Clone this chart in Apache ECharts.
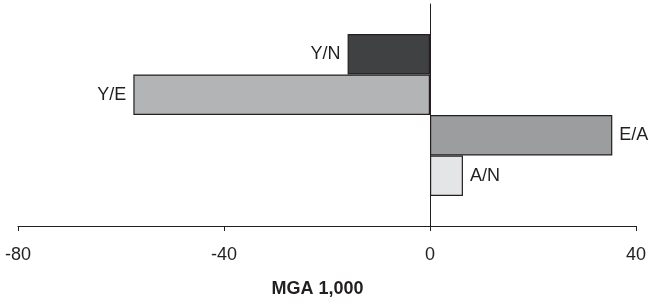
<!DOCTYPE html>
<html>
<head>
<meta charset="utf-8">
<script src="https://cdn.jsdelivr.net/npm/echarts@6/dist/echarts.min.js"></script>
<style>
  html, body { margin: 0; padding: 0; background: #fff; }
  #chart { width: 649px; height: 304px; }
</style>
</head>
<body>
<div id="chart"></div>
<script>
// data (MGA 1,000)
const categories = [''];
const seriesNames = ['Y/N', 'Y/E', 'E/A', 'A/N'];
const seriesValues = [-16, -57.6, 35.4, 6.4];
const xTicks = [-80, -40, 0, 40];
const barColors = ['#404143', '#b3b4b6', '#9c9d9f', '#e4e5e6'];

const chart = echarts.init(document.getElementById('chart'));
const font = '"Liberation Sans", Arial, sans-serif';
const ink = '#231f20';

const series = seriesNames.map((name, i) => ({
    name: name,
    type: 'bar',
    data: [seriesValues[i]],
    barGap: '0%',
    barCategoryGap: '27%',
    itemStyle: {
        color: barColors[i],
        borderColor: ink,
        borderWidth: 1.2
    },
    label: {
        show: true,
        position: seriesValues[i] < 0 ? 'left' : 'right',
        distance: 7,
        formatter: '{a}',
        color: ink,
        fontFamily: font,
        fontSize: 18
    },
    silent: true
}));

chart.setOption({
    animation: false,
    grid: {left: 18, right: 13, top: 4, bottom: 78},
    xAxis: {
        type: 'value',
        min: xTicks[0],
        max: xTicks[xTicks.length - 1],
        interval: 40,
        splitLine: {show: false},
        axisLine: {show: true, lineStyle: {color: ink, width: 1.2}},
        axisTick: {show: true, length: 5, lineStyle: {color: ink}},
        axisLabel: {color: ink, fontFamily: font, fontSize: 18, margin: 20},
        name: 'MGA 1,000',
        nameLocation: 'middle',
        nameGap: 54,
        nameTextStyle: {
            color: ink, fontFamily: font, fontSize: 18, fontWeight: 'bold',
            padding: [0, 19, 0, 0]
        }
    },
    yAxis: {
        type: 'category',
        data: categories,
        inverse: true,
        axisLine: {show: true, onZero: true, lineStyle: {color: ink, width: 1}},
        axisTick: {show: false},
        axisLabel: {show: false},
        splitLine: {show: false}
    },
    series: series
});
</script>
</body>
</html>
